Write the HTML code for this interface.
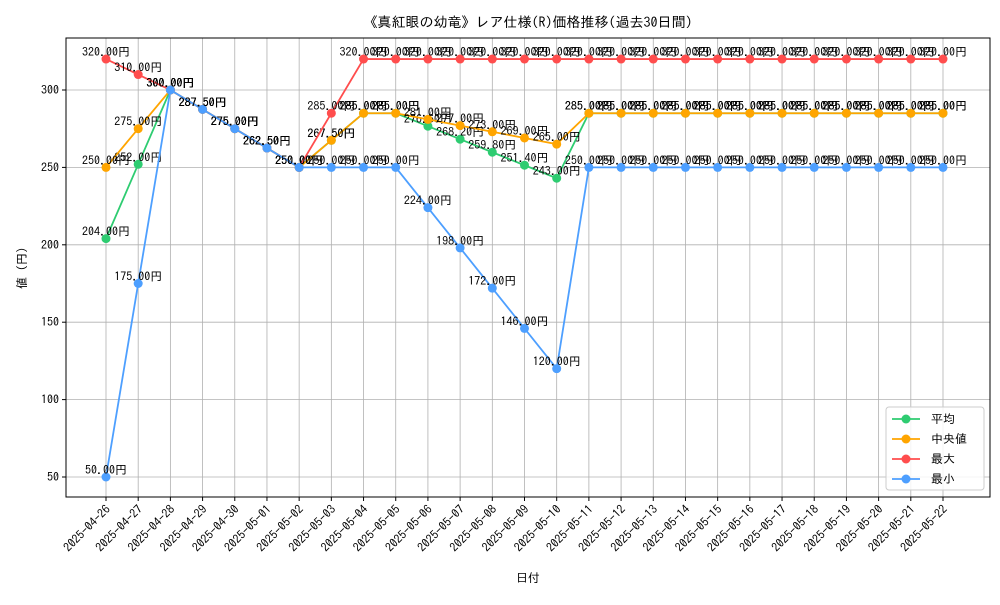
<!DOCTYPE html>
<html><head><meta charset="utf-8"><style>
body{margin:0;background:#fff}
svg text{font-family:"IPAGothic","Liberation Sans","Noto Sans CJK JP",sans-serif}
</style></head><body>
<svg id="chart" width="1000" height="600" xmlns="http://www.w3.org/2000/svg">
<rect width="1000" height="600" fill="#fff"/>
<text x="528" y="27" text-anchor="middle" font-size="14">《真紅眼の幼竜》レア仕様(R)価格推移(過去30日間)</text>
<g id="grid"></g><g id="axes"></g><g id="series"></g>
<text x="528" y="582" text-anchor="middle" font-size="12">日付</text>
<text transform="translate(26,268) rotate(-90)" text-anchor="middle" font-size="12">値 (円)</text>
<g>
<rect x="886" y="407" width="98" height="83" rx="3" fill="#fff" fill-opacity="0.85" stroke="#ccc"/>
<g id="legend-items"></g>
</g>
</svg>
<script>
const dates=["2025-04-26","2025-04-27","2025-04-28","2025-04-29","2025-04-30","2025-05-01","2025-05-02","2025-05-03","2025-05-04","2025-05-05","2025-05-06","2025-05-07","2025-05-08","2025-05-09","2025-05-10","2025-05-11","2025-05-12","2025-05-13","2025-05-14","2025-05-15","2025-05-16","2025-05-17","2025-05-18","2025-05-19","2025-05-20","2025-05-21","2025-05-22"];
const avgValues=[204,252,300,287.5,275,262.5,250,267.5,285,285,276.6,268.2,259.8,251.4,243,285,285,285,285,285,285,285,285,285,285,285,285];
const medianValues=[250,275,300,287.5,275,262.5,250,267.5,285,285,281,277,273,269,265,285,285,285,285,285,285,285,285,285,285,285,285];
const maxValues=[320,310,300,287.5,275,262.5,250,285,320,320,320,320,320,320,320,320,320,320,320,320,320,320,320,320,320,320,320];
const minValues=[50,175,300,287.5,275,262.5,250,250,250,250,224,198,172,146,120,250,250,250,250,250,250,250,250,250,250,250,250];
const yTicks=[50,100,150,200,250,300];
const seriesNames=["平均","中央値","最大","最小"];
const colors=["#2ecc71","#ffa500","#ff4d4d","#4d9fff"];
const NS="http://www.w3.org/2000/svg";
const L=66,R=990,T=38,B=497;
const xs=i=>106+i*(943-106)/(dates.length-1);
const ys=v=>477-(v-50)*(477-90)/250;
function mk(tag,attrs,parent){const e=document.createElementNS(NS,tag);for(const k in attrs)e.setAttribute(k,attrs[k]);parent.appendChild(e);return e;}
const grid=document.getElementById('grid'),axes=document.getElementById('axes'),ser=document.getElementById('series');
dates.forEach((d,i)=>{const x=xs(i);
 const g=mk('line',{x1:x,x2:x,y1:T,y2:B,stroke:'#b0b0b0','stroke-width':0.8},grid);
 
 
 mk('line',{x1:x,x2:x,y1:B,y2:B+4,stroke:'#000'},axes);
 const t=mk('text',{x:x+5,y:B+13,'text-anchor':'end','font-size':12,transform:`rotate(-45 ${x+5} ${B+13})`},axes);
 t.textContent=d;
 
 
});
yTicks.forEach(v=>{const y=ys(v);
 const g=mk('line',{x1:L,x2:R,y1:y,y2:y,stroke:'#b0b0b0','stroke-width':0.8},grid);
 
 
 mk('line',{x1:L-4,x2:L,y1:y,y2:y,stroke:'#000'},axes);
 const t=mk('text',{x:L-7,y:y+4,'text-anchor':'end','font-size':12},axes);
 t.textContent=v;
 
 
});
mk('rect',{x:L,y:T,width:R-L,height:B-T,fill:'none',stroke:'#000','stroke-width':1},axes);
[avgValues,medianValues,maxValues,minValues].forEach((vals,s)=>{
 const g=mk('g',{},ser);
 
 
 mk('polyline',{points:vals.map((v,i)=>xs(i)+','+ys(v)).join(' '),fill:'none',stroke:colors[s],'stroke-width':1.8},g);
 vals.forEach((v,i)=>{
  const c=mk('circle',{cx:xs(i),cy:ys(v),r:4.5,fill:colors[s]},g);
  
  
  const t=mk('text',{x:xs(i),y:ys(v)-3,'text-anchor':'middle','font-size':12},g);
  t.textContent=v.toFixed(2)+'円';
  
  
 });
});
const li=document.getElementById('legend-items');
seriesNames.forEach((n,s)=>{const y=419+s*20;
 const g=mk('g',{},li);
 
 
 mk('line',{x1:892,x2:920,y1:y,y2:y,stroke:colors[s],'stroke-width':1.8},g);
 mk('circle',{cx:906,cy:y,r:4.5,fill:colors[s]},g);
 const t=mk('text',{x:931,y:y+4,'font-size':12},g);t.textContent=n;
});
</script>
</body></html>
